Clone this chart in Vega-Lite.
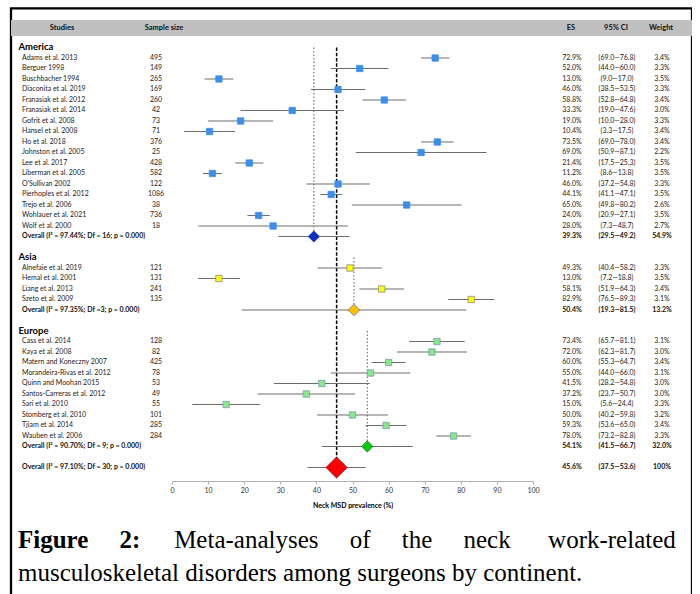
{
  "$schema": "https://vega.github.io/schema/vega-lite/v6.json",
  "width": 681,
  "height": 592,
  "autosize": {"type": "none"},
  "padding": {"left": 11, "top": 8.3, "right": 0, "bottom": 0},
  "background": "white",
  "config": {
    "view": {"stroke": "#000", "strokeWidth": 2.3},
    "text": {"font": "Lato"},
    "axis": {"labelFont": "Lato", "titleFont": "Lato"}
  },
  "title": {
    "text": "Figure\u00a0\u00a0\u00a0\u00a0\u00a02:",
    "subtitle": [
      "\u200b\u00a0\u00a0\u00a0\u00a0\u00a0\u00a0\u00a0\u00a0\u00a0\u00a0\u00a0\u00a0\u00a0\u00a0\u00a0\u00a0\u00a0\u00a0\u00a0\u00a0\u00a0\u00a0\u00a0\u00a0\u00a0Meta-analyses\u00a0\u00a0\u00a0\u00a0\u00a0of\u00a0\u00a0\u00a0\u00a0\u00a0the\u00a0\u00a0\u00a0\u00a0\u00a0neck\u00a0\u00a0\u00a0\u00a0\u00a0\u00a0work-related",
      "musculoskeletal disorders among surgeons by continent."
    ],
    "orient": "bottom",
    "anchor": "start",
    "frame": "group",
    "offset": -72,
    "dx": 7,
    "font": "Liberation Serif",
    "fontSize": 25,
    "fontWeight": "bold",
    "color": "#000",
    "subtitleFont": "Liberation Serif",
    "subtitleFontSize": 25,
    "subtitleFontWeight": "normal",
    "subtitleColor": "#000",
    "subtitlePadding": -25,
    "subtitleLineHeight": 33
  },
  "data": {
    "values": [
      {"label": "Studies", "n": "Sample size", "es_txt": "ES", "ci_txt": "95% CI", "w_txt": "Weight", "kind": "header", "region": ""},
      {"label": "sp0", "kind": "spacer", "region": ""},
      {"label": "America", "kind": "group", "region": "America"},
      {"label": "Adams et al. 2013", "n": "495", "es": 72.9, "lo": 69.0, "hi": 76.8, "es_txt": "72.9%", "ci_txt": "(69.0—76.8)", "w_txt": "3.4%", "kind": "study", "region": "America"},
      {"label": "Berguer 1998", "n": "149", "es": 52.0, "lo": 44.0, "hi": 60.0, "es_txt": "52.0%", "ci_txt": "(44.0—60.0)", "w_txt": "3.3%", "kind": "study", "region": "America"},
      {"label": "Buschbacher 1994", "n": "265", "es": 13.0, "lo": 9.0, "hi": 17.0, "es_txt": "13.0%", "ci_txt": "(9.0—17.0)", "w_txt": "3.5%", "kind": "study", "region": "America"},
      {"label": "Diaconita et al. 2019", "n": "169", "es": 46.0, "lo": 38.5, "hi": 53.5, "es_txt": "46.0%", "ci_txt": "(38.5—53.5)", "w_txt": "3.3%", "kind": "study", "region": "America"},
      {"label": "Franasiak et al. 2012", "n": "260", "es": 58.8, "lo": 52.8, "hi": 64.8, "es_txt": "58.8%", "ci_txt": "(52.8—64.8)", "w_txt": "3.4%", "kind": "study", "region": "America"},
      {"label": "Franasiak et al. 2014", "n": "42", "es": 33.3, "lo": 19.0, "hi": 47.6, "es_txt": "33.3%", "ci_txt": "(19.0—47.6)", "w_txt": "3.0%", "kind": "study", "region": "America"},
      {"label": "Gofrit et al. 2008", "n": "73", "es": 19.0, "lo": 10.0, "hi": 28.0, "es_txt": "19.0%", "ci_txt": "(10.0—28.0)", "w_txt": "3.3%", "kind": "study", "region": "America"},
      {"label": "Hansel et al. 2008", "n": "71", "es": 10.4, "lo": 3.3, "hi": 17.5, "es_txt": "10.4%", "ci_txt": "(3.3—17.5)", "w_txt": "3.4%", "kind": "study", "region": "America"},
      {"label": "Ho et al. 2018", "n": "376", "es": 73.5, "lo": 69.0, "hi": 78.0, "es_txt": "73.5%", "ci_txt": "(69.0—78.0)", "w_txt": "3.4%", "kind": "study", "region": "America"},
      {"label": "Johnston et al. 2005", "n": "25", "es": 69.0, "lo": 50.9, "hi": 87.1, "es_txt": "69.0%", "ci_txt": "(50.9—87.1)", "w_txt": "2.2%", "kind": "study", "region": "America"},
      {"label": "Lee et al. 2017", "n": "428", "es": 21.4, "lo": 17.5, "hi": 25.3, "es_txt": "21.4%", "ci_txt": "(17.5—25.3)", "w_txt": "3.5%", "kind": "study", "region": "America"},
      {"label": "Liberman et al. 2005", "n": "582", "es": 11.2, "lo": 8.6, "hi": 13.8, "es_txt": "11.2%", "ci_txt": "(8.6—13.8)", "w_txt": "3.5%", "kind": "study", "region": "America"},
      {"label": "O'Sullivan 2002", "n": "122", "es": 46.0, "lo": 37.2, "hi": 54.8, "es_txt": "46.0%", "ci_txt": "(37.2—54.8)", "w_txt": "3.3%", "kind": "study", "region": "America"},
      {"label": "Pierhoples et al. 2012", "n": "1086", "es": 44.1, "lo": 41.1, "hi": 47.1, "es_txt": "44.1%", "ci_txt": "(41.1—47.1)", "w_txt": "3.5%", "kind": "study", "region": "America"},
      {"label": "Trejo et al. 2006", "n": "38", "es": 65.0, "lo": 49.8, "hi": 80.2, "es_txt": "65.0%", "ci_txt": "(49.8—80.2)", "w_txt": "2.6%", "kind": "study", "region": "America"},
      {"label": "Wohlauer et al. 2021", "n": "736", "es": 24.0, "lo": 20.9, "hi": 27.1, "es_txt": "24.0%", "ci_txt": "(20.9—27.1)", "w_txt": "3.5%", "kind": "study", "region": "America"},
      {"label": "Wolf et al. 2000", "n": "18", "es": 28.0, "lo": 7.3, "hi": 48.7, "es_txt": "28.0%", "ci_txt": "(7.3—48.7)", "w_txt": "2.7%", "kind": "study", "region": "America"},
      {"label": "Overall (I² = 97.44%; Df = 16; p = 0.000)", "es": 39.3, "lo": 29.5, "hi": 49.2, "es_txt": "39.3%", "ci_txt": "(29.5—49.2)", "w_txt": "54.9%", "kind": "overall", "region": "America"},
      {"label": "sp1", "kind": "spacer", "region": ""},
      {"label": "Asia", "kind": "group", "region": "Asia"},
      {"label": "Alnefaie et al. 2019", "n": "121", "es": 49.3, "lo": 40.4, "hi": 58.2, "es_txt": "49.3%", "ci_txt": "(40.4—58.2)", "w_txt": "3.3%", "kind": "study", "region": "Asia"},
      {"label": "Hemal et al. 2001", "n": "131", "es": 13.0, "lo": 7.2, "hi": 18.8, "es_txt": "13.0%", "ci_txt": "(7.2—18.8)", "w_txt": "3.5%", "kind": "study", "region": "Asia"},
      {"label": "Liang et al. 2013", "n": "241", "es": 58.1, "lo": 51.9, "hi": 64.3, "es_txt": "58.1%", "ci_txt": "(51.9—64.3)", "w_txt": "3.4%", "kind": "study", "region": "Asia"},
      {"label": "Szeto et al. 2009", "n": "135", "es": 82.9, "lo": 76.5, "hi": 89.3, "es_txt": "82.9%", "ci_txt": "(76.5—89.3)", "w_txt": "3.1%", "kind": "study", "region": "Asia"},
      {"label": "Overall (I² = 97.35%; Df =3; p = 0.000)", "es": 50.4, "lo": 19.3, "hi": 81.5, "es_txt": "50.4%", "ci_txt": "(19.3—81.5)", "w_txt": "13.2%", "kind": "overall", "region": "Asia"},
      {"label": "sp2", "kind": "spacer", "region": ""},
      {"label": "Europe", "kind": "group", "region": "Europe"},
      {"label": "Cass et al. 2014", "n": "128", "es": 73.4, "lo": 65.7, "hi": 81.1, "es_txt": "73.4%", "ci_txt": "(65.7—81.1)", "w_txt": "3.1%", "kind": "study", "region": "Europe"},
      {"label": "Kaya et al. 2008", "n": "82", "es": 72.0, "lo": 62.3, "hi": 81.7, "es_txt": "72.0%", "ci_txt": "(62.3—81.7)", "w_txt": "3.0%", "kind": "study", "region": "Europe"},
      {"label": "Matern and Koneczny 2007", "n": "425", "es": 60.0, "lo": 55.3, "hi": 64.7, "es_txt": "60.0%", "ci_txt": "(55.3—64.7)", "w_txt": "3.4%", "kind": "study", "region": "Europe"},
      {"label": "Morandeira-Rivas et al. 2012", "n": "78", "es": 55.0, "lo": 44.0, "hi": 66.0, "es_txt": "55.0%", "ci_txt": "(44.0—66.0)", "w_txt": "3.1%", "kind": "study", "region": "Europe"},
      {"label": "Quinn and Moohan 2015", "n": "53", "es": 41.5, "lo": 28.2, "hi": 54.8, "es_txt": "41.5%", "ci_txt": "(28.2—54.8)", "w_txt": "3.0%", "kind": "study", "region": "Europe"},
      {"label": "Santos-Carreras et al. 2012", "n": "49", "es": 37.2, "lo": 23.7, "hi": 50.7, "es_txt": "37.2%", "ci_txt": "(23.7—50.7)", "w_txt": "3.0%", "kind": "study", "region": "Europe"},
      {"label": "Sari et al. 2010", "n": "55", "es": 15.0, "lo": 5.6, "hi": 24.4, "es_txt": "15.0%", "ci_txt": "(5.6—24.4)", "w_txt": "3.3%", "kind": "study", "region": "Europe"},
      {"label": "Stomberg et al. 2010", "n": "101", "es": 50.0, "lo": 40.2, "hi": 59.8, "es_txt": "50.0%", "ci_txt": "(40.2—59.8)", "w_txt": "3.2%", "kind": "study", "region": "Europe"},
      {"label": "Tjiam et al. 2014", "n": "285", "es": 59.3, "lo": 53.6, "hi": 65.0, "es_txt": "59.3%", "ci_txt": "(53.6—65.0)", "w_txt": "3.4%", "kind": "study", "region": "Europe"},
      {"label": "Wauben et al. 2006", "n": "284", "es": 78.0, "lo": 73.2, "hi": 82.8, "es_txt": "78.0%", "ci_txt": "(73.2—82.8)", "w_txt": "3.3%", "kind": "study", "region": "Europe"},
      {"label": "Overall (I² = 90.70%; Df = 9; p = 0.000)", "es": 54.1, "lo": 41.5, "hi": 66.7, "es_txt": "54.1%", "ci_txt": "(41.5—66.7)", "w_txt": "32.0%", "kind": "overall", "region": "Europe"},
      {"label": "sp3", "kind": "spacer", "region": ""},
      {"label": "Overall (I² = 97.10%; Df = 30; p = 0.000)", "es": 45.6, "lo": 37.5, "hi": 53.6, "es_txt": "45.6%", "ci_txt": "(37.5—53.6)", "w_txt": "100%", "kind": "total", "region": "All"}
    ]
  },
  "encoding": {
    "y": {
      "field": "label",
      "type": "nominal",
      "axis": null,
      "scale": {
        "type": "band",
        "paddingInner": 0,
        "paddingOuter": 0,
        "range": [12.95, 464.45],
        "domain": ["Studies", "sp0", "America", "Adams et al. 2013", "Berguer 1998", "Buschbacher 1994", "Diaconita et al. 2019", "Franasiak et al. 2012", "Franasiak et al. 2014", "Gofrit et al. 2008", "Hansel et al. 2008", "Ho et al. 2018", "Johnston et al. 2005", "Lee et al. 2017", "Liberman et al. 2005", "O'Sullivan 2002", "Pierhoples et al. 2012", "Trejo et al. 2006", "Wohlauer et al. 2021", "Wolf et al. 2000", "Overall (I² = 97.44%; Df = 16; p = 0.000)", "sp1", "Asia", "Alnefaie et al. 2019", "Hemal et al. 2001", "Liang et al. 2013", "Szeto et al. 2009", "Overall (I² = 97.35%; Df =3; p = 0.000)", "sp2", "Europe", "Cass et al. 2014", "Kaya et al. 2008", "Matern and Koneczny 2007", "Morandeira-Rivas et al. 2012", "Quinn and Moohan 2015", "Santos-Carreras et al. 2012", "Sari et al. 2010", "Stomberg et al. 2010", "Tjiam et al. 2014", "Wauben et al. 2006", "Overall (I² = 90.70%; Df = 9; p = 0.000)", "sp3", "Overall (I² = 97.10%; Df = 30; p = 0.000)"]
      }
    }
  },
  "resolve": {"scale": {"x": "independent"}, "axis": {"x": "independent"}},
  "layer": [
    {
      "transform": [{"filter": "datum.kind == 'header'"}],
      "mark": {"type": "rect", "height": 16, "yOffset": 1.5, "color": "#c0c0c0"}
    },
    {
      "layer": [
        {
          "transform": [
            {"window": [{"op": "last_value", "field": "es", "as": "pooled"}], "groupby": ["region"], "frame": [null, null]},
            {"filter": "datum.kind == 'group' || datum.kind == 'study' || datum.kind == 'overall'"}
          ],
          "mark": {"type": "line", "strokeDash": [1.5, 2], "strokeWidth": 0.8, "color": "#333"},
          "encoding": {
            "x": {"field": "pooled", "type": "quantitative", "scale": {"domain": [0, 100], "range": [161, 522]},
              "axis": {"values": [0, 10, 20, 30, 40, 50, 60, 70, 80, 90, 100], "offset": -119.3, "title": "Neck MSD prevalence (%)", "titleFontSize": 7, "titleFontWeight": "bold", "titleColor": "#000", "titlePadding": 8, "labelFontSize": 7, "labelColor": "#333", "labelPadding": 3, "tickSize": 3, "tickColor": "#b0b0b0", "domainColor": "#b0b0b0", "grid": false, "labelFlush": false}},
            "detail": {"field": "region"},
            "order": {"value": null}
          }
        },
        {
          "transform": [
            {"window": [{"op": "last_value", "field": "es", "as": "total"}], "frame": [null, null]},
            {"filter": "datum.kind != 'header' && datum.label != 'sp0'"}
          ],
          "mark": {"type": "line", "strokeDash": [3.5, 1.75], "strokeWidth": 1.5, "color": "#000"},
          "encoding": {
            "x": {"field": "total", "type": "quantitative", "scale": {"domain": [0, 100], "range": [161, 522]},
              "axis": {"values": [0, 10, 20, 30, 40, 50, 60, 70, 80, 90, 100], "offset": -119.3, "title": "Neck MSD prevalence (%)", "titleFontSize": 7, "titleFontWeight": "bold", "titleColor": "#000", "titlePadding": 8, "labelFontSize": 7, "labelColor": "#333", "labelPadding": 3, "tickSize": 3, "tickColor": "#b0b0b0", "domainColor": "#b0b0b0", "grid": false, "labelFlush": false}},
            "order": {"value": null}
          }
        },
        {
          "transform": [{"filter": "datum.kind == 'study' || datum.kind == 'overall' || datum.kind == 'total'"}],
          "mark": {"type": "rule", "color": "#6b6b6b", "strokeWidth": 1},
          "encoding": {
            "x": {"field": "lo", "type": "quantitative", "scale": {"domain": [0, 100], "range": [161, 522]},
              "axis": {"values": [0, 10, 20, 30, 40, 50, 60, 70, 80, 90, 100], "offset": -119.3, "title": "Neck MSD prevalence (%)", "titleFontSize": 7, "titleFontWeight": "bold", "titleColor": "#000", "titlePadding": 8, "labelFontSize": 7, "labelColor": "#333", "labelPadding": 3, "tickSize": 3, "tickColor": "#b0b0b0", "domainColor": "#b0b0b0", "grid": false, "labelFlush": false}},
            "x2": {"field": "hi"}
          }
        },
        {
          "transform": [{"filter": "datum.kind == 'study'"}],
          "mark": {"type": "point", "shape": "square", "filled": true, "size": 40, "strokeWidth": 0.8, "opacity": 1},
          "encoding": {
            "x": {"field": "es", "type": "quantitative", "scale": {"domain": [0, 100], "range": [161, 522]},
              "axis": {"values": [0, 10, 20, 30, 40, 50, 60, 70, 80, 90, 100], "offset": -119.3, "title": "Neck MSD prevalence (%)", "titleFontSize": 7, "titleFontWeight": "bold", "titleColor": "#000", "titlePadding": 8, "labelFontSize": 7, "labelColor": "#333", "labelPadding": 3, "tickSize": 3, "tickColor": "#b0b0b0", "domainColor": "#b0b0b0", "grid": false, "labelFlush": false}},
            "fill": {"field": "region", "type": "nominal", "legend": null, "scale": {"domain": ["America", "Asia", "Europe"], "range": ["#3b8eea", "#ffff00", "#86e886"]}},
            "stroke": {"field": "region", "type": "nominal", "legend": null, "scale": {"domain": ["America", "Asia", "Europe"], "range": ["#3b8eea", "#8a8a8a", "#7f98b8"]}}
          }
        },
        {
          "transform": [{"filter": "datum.kind == 'overall' || datum.kind == 'total'"}],
          "mark": {"type": "point", "shape": "diamond", "filled": true, "stroke": "#2a3a70", "strokeWidth": 0.5, "opacity": 1},
          "encoding": {
            "x": {"field": "es", "type": "quantitative", "scale": {"domain": [0, 100], "range": [161, 522]},
              "axis": {"values": [0, 10, 20, 30, 40, 50, 60, 70, 80, 90, 100], "offset": -119.3, "title": "Neck MSD prevalence (%)", "titleFontSize": 7, "titleFontWeight": "bold", "titleColor": "#000", "titlePadding": 8, "labelFontSize": 7, "labelColor": "#333", "labelPadding": 3, "tickSize": 3, "tickColor": "#b0b0b0", "domainColor": "#b0b0b0", "grid": false, "labelFlush": false}},
            "color": {"field": "region", "type": "nominal", "legend": null, "scale": {"domain": ["America", "Asia", "Europe", "All"], "range": ["#0b2ec4", "#ffc000", "#00cc00", "#ff0000"]}},
            "size": {"field": "kind", "type": "nominal", "legend": null, "scale": {"domain": ["overall", "total"], "range": [130, 470]}}
          }
        }
      ]
    },
    {
      "transform": [{"fold": ["label", "n"], "as": ["col", "cell"]}, {"filter": "isValid(datum.cell)"}],
      "encoding": {
        "x": {"field": "col", "type": "nominal", "axis": null, "scale": {"type": "point", "domain": ["label", "n"], "range": [11, 145], "padding": 0}},
        "text": {"field": "cell"}
      },
      "layer": [
        {
          "transform": [{"filter": "datum.kind == 'header' && datum.col == 'label'"}],
          "mark": {"type": "text", "align": "center", "dx": 40, "dy": 1.5, "fontSize": 7.5, "fontWeight": "bold", "color": "#111"}
        },
        {
          "transform": [{"filter": "datum.kind == 'header' && datum.col == 'n'"}],
          "mark": {"type": "text", "align": "center", "dx": 8, "dy": 1.5, "fontSize": 7.5, "fontWeight": "bold", "color": "#111"}
        },
        {
          "transform": [{"filter": "datum.kind == 'group' && datum.col == 'label'"}],
          "mark": {"type": "text", "align": "left", "dx": -3.5, "fontSize": 9.5, "fontWeight": "bold", "color": "#000"}
        },
        {
          "transform": [{"filter": "datum.kind == 'study' && datum.col == 'label'"}],
          "mark": {"type": "text", "align": "left", "fontSize": 7, "color": "#222"}
        },
        {
          "transform": [{"filter": "datum.kind == 'study' && datum.col == 'n'"}],
          "mark": {"type": "text", "align": "center", "fontSize": 7, "color": "#222"}
        },
        {
          "transform": [{"filter": "(datum.kind == 'overall' || datum.kind == 'total') && datum.col == 'label'"}],
          "mark": {"type": "text", "align": "left", "fontSize": 7, "fontWeight": "bold", "color": "#111"}
        }
      ]
    },
    {
      "transform": [{"fold": ["es_txt", "ci_txt", "w_txt"], "as": ["col", "cell"]}, {"filter": "isValid(datum.cell)"}],
      "encoding": {
        "x": {"field": "col", "type": "nominal", "axis": null, "scale": {"type": "point", "domain": ["es_txt", "ci_txt", "w_txt"], "range": [561, 651], "padding": 0}},
        "text": {"field": "cell"}
      },
      "layer": [
        {
          "transform": [{"filter": "datum.kind == 'header'"}],
          "mark": {"type": "text", "align": "center", "dx": -1, "dy": 1.5, "fontSize": 7.5, "fontWeight": "bold", "color": "#111"}
        },
        {
          "transform": [{"filter": "datum.kind == 'study'"}],
          "mark": {"type": "text", "align": "center", "fontSize": 7, "color": "#222"}
        },
        {
          "transform": [{"filter": "datum.kind == 'overall' || datum.kind == 'total'"}],
          "mark": {"type": "text", "align": "center", "fontSize": 7, "fontWeight": "bold", "color": "#111"}
        }
      ]
    }
  ]
}
